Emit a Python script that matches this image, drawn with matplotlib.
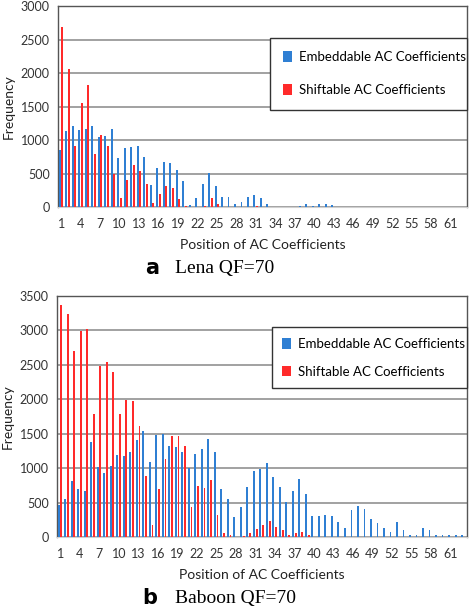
import matplotlib
matplotlib.use("Agg")
import matplotlib.pyplot as plt
import numpy as np

plt.rcParams['font.family'] = ['Lato', 'DejaVu Sans']

positions = list(range(1, 64))
tick_labels = [str(p) for p in range(1, 62, 3)]

# Lena QF=70
lena_embed = [855, 1140, 1210, 1150, 1165, 1210, 1045, 1060, 1170, 730,
              885, 895, 915, 750, 325, 590, 670, 660, 560, 385,
              25, 140, 340, 505, 315, 155, 155, 50, 80, 155,
              175, 140, 40, 0, 0, 0, 0, 20, 45, 20,
              45, 40, 25, 5, 0, 0, 0, 0, 0, 0,
              0, 0, 0, 0, 0, 0, 0, 0, 0, 0,
              0, 0, 0]
lena_shift = [2690, 2055, 915, 1555, 1825, 795, 1075, 905, 490, 130,
              400, 630, 540, 345, 55, 190, 310, 290, 120, 10,
              0, 0, 15, 130, 50, 0, 0, 0, 0, 0,
              10, 0, 0, 0, 0, 0, 0, 0, 0, 0,
              0, 0, 0, 0, 0, 0, 0, 0, 0, 0,
              0, 0, 0, 0, 0, 0, 0, 0, 0, 0,
              0, 0, 0]

# Baboon QF=70
baboon_embed = [467, 548, 808, 702, 668, 1376, 1015, 928, 1029, 1193,
                1174, 1231, 1409, 1544, 1087, 1486, 1490, 1318, 1308, 1241,
                1005, 1203, 1284, 1428, 1241, 693, 558, 289, 433, 731,
                957, 996, 1077, 876, 724, 509, 676, 847, 628, 314,
                300, 324, 309, 224, 133, 400, 457, 405, 262, 205,
                133, 81, 214, 105, 29, 33, 133, 100, 24, 24,
                24, 24, 24]
baboon_shift = [3375, 3240, 2703, 2992, 3016, 1789, 2487, 2540, 2400, 1794,
                1996, 1977, 1607, 885, 178, 702, 1140, 1462, 1462, 1318,
                433, 741, 707, 822, 322, 67, 34, 0, 10, 53,
                120, 183, 233, 152, 105, 24, 57, 71, 33, 0,
                0, 0, 0, 0, 0, 0, 0, 0, 0, 0,
                0, 0, 0, 0, 0, 0, 0, 0, 0, 0,
                0, 0, 0]

blue = '#2F7FD3'
red = '#FF2A2A'

fig = plt.figure(figsize=(4.72, 6.09), dpi=100)
ax1 = fig.add_axes([0.1229, 0.660, 0.866, 0.330])
ax2 = fig.add_axes([0.1208, 0.118, 0.868, 0.396])


def draw(ax, emb, shf, ymax, leg_box, lspace, bpad):
    x = np.array(positions)
    w = 0.3
    ax.bar(x - 0.22, emb, w, color=blue, label='Embeddable AC Coefficients', zorder=3)
    ax.bar(x + 0.18, shf, w, color=red, label='Shiftable AC Coefficients', zorder=3)
    ax.set_xlim(0.5, 63.5)
    ax.set_ylim(0, ymax)
    ax.set_yticks(range(0, ymax + 1, 500))
    ax.set_xticks(range(1, 62, 3))
    ax.set_xticklabels(tick_labels)
    ax.tick_params(length=0, labelsize=9, colors='#333333', pad=8)
    ax.tick_params(axis='y', pad=6)
    ax.yaxis.grid(True, color='#9a9a9a', linewidth=1.3, zorder=0)
    for s in ['left', 'top', 'right']:
        ax.spines[s].set_color('#555555')
        ax.spines[s].set_linewidth(1.0)
    ax.spines['bottom'].set_color('#d0d0d0')
    ax.set_ylabel('Frequency', fontsize=10, color='#222222', labelpad=4)
    ax.set_xlabel('Position of AC Coefficients', fontsize=10, color='#222222', labelpad=6)
    leg = ax.legend(loc='upper left', bbox_to_anchor=leg_box, mode='expand',
                    fontsize=9.5, frameon=True, fancybox=False, framealpha=1,
                    edgecolor='#333333', handlelength=0.7, handleheight=0.9,
                    handletextpad=0.5, labelspacing=lspace, borderpad=bpad,
                    borderaxespad=0)
    leg.get_frame().set_linewidth(1.0)


draw(ax1, lena_embed, lena_shift, 3000, (0.518, 0.40, 0.482, 0.441), 1.6, 1.0)
draw(ax2, baboon_embed, baboon_shift, 3500, (0.524, 0.50, 0.476, 0.371), 1.2, 0.8)

fig.text(0.322, 1 - 268 / 609, 'a', fontsize=15, fontweight='bold',
         family='DejaVu Sans', va='center', ha='center')
fig.text(0.370, 1 - 268 / 609, 'Lena QF=70', fontsize=14,
         family='Liberation Serif', va='center', ha='left')
fig.text(0.318, 1 - 598 / 609, 'b', fontsize=15, fontweight='bold',
         family='DejaVu Sans', va='center', ha='center')
fig.text(0.370, 1 - 598 / 609, 'Baboon QF=70', fontsize=14,
         family='Liberation Serif', va='center', ha='left')

fig.savefig('out.png', dpi=100)
